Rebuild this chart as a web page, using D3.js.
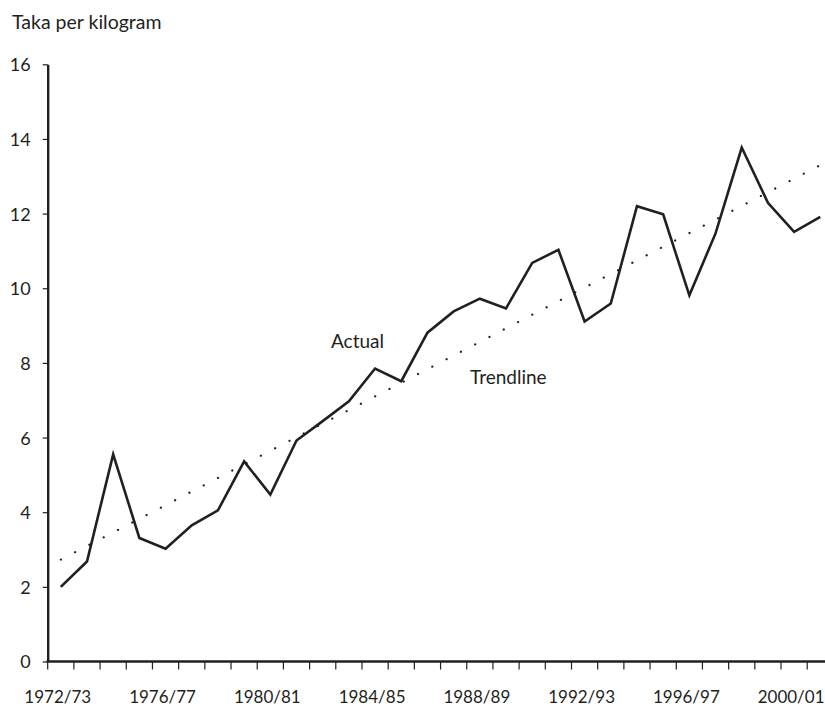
<!DOCTYPE html>
<html>
<head>
<meta charset="utf-8">
<script src="https://cdn.jsdelivr.net/npm/d3@7"></script>
<style>
  html, body { margin: 0; padding: 0; background: #fff; }
  svg { display: block; font-family: Lato, "Open Sans", sans-serif; }
  .axis path, .axis line { stroke: #231f20; }
  .axis text { fill: #231f20; font-size: 18px; font-family: Lato, sans-serif; }
</style>
</head>
<body>
<svg id="chart" width="825" height="708"></svg>
<script>
const years = [
  '1972/73', '1973/74', '1974/75', '1975/76', '1976/77', '1977/78', '1978/79', '1979/80',
  '1980/81', '1981/82', '1982/83', '1983/84', '1984/85', '1985/86', '1986/87', '1987/88',
  '1988/89', '1989/90', '1990/91', '1991/92', '1992/93', '1993/94', '1994/95', '1995/96',
  '1996/97', '1997/98', '1998/99', '1999/00', '2000/01', '2001/02'
];

const actual = [
  2.0, 2.68, 5.55, 3.31, 3.02, 3.65, 4.05, 5.36, 4.47, 5.92,
  6.44, 6.97, 7.85, 7.51, 8.81, 9.38, 9.72, 9.46, 10.68, 11.03,
  9.11, 9.59, 12.2, 11.98, 9.81, 11.47, 13.77, 12.29, 11.51, 11.91
];

// trendline read at the first and last year
const trendline = [
  { year: '1972/73', value: 2.73 },
  { year: '2001/02', value: 13.3 }
];

const yTicks = [0, 2, 4, 6, 8, 10, 12, 14, 16];
const labelYears = ['1972/73', '1976/77', '1980/81', '1984/85', '1988/89', '1992/93', '1996/97', '2000/01'];

const ink = '#231f20';
const axisLeft = 47.7;
const axisBottom = 661.5;
const step = 26.19;

const svg = d3.select('#chart');

const x = d3.scaleBand()
  .domain(years)
  .range([axisLeft, axisLeft + step * years.length])
  .paddingInner(0)
  .paddingOuter(0);

const xMid = d => x(d) + x.bandwidth() / 2;

const y = d3.scaleLinear()
  .domain([0, 16])
  .range([axisBottom, 64.3]);

// y axis
const yAxis = svg.append('g')
  .classed('axis', true)
  .attr('transform', `translate(${axisLeft},0)`)
  .call(d3.axisLeft(y).tickValues(yTicks).tickSize(5).tickSizeOuter(0).tickPadding(12));

yAxis.select('.domain').attr('stroke-width', 2.4);
yAxis.selectAll('.tick line').attr('stroke-width', 1.2);
yAxis.selectAll('.tick text').attr('dy', '0.36em');

// x axis: tick marks at the band edges, labels every four years
const xAxis = svg.append('g')
  .classed('axis', true)
  .attr('transform', `translate(0,${axisBottom})`);

xAxis.append('line')
  .attr('x1', axisLeft - 1.2)
  .attr('x2', x.range()[1])
  .attr('stroke', ink)
  .attr('stroke-width', 2.4);

xAxis.selectAll('.xtick')
  .data(years)
  .join('line')
  .classed('xtick', true)
  .attr('x1', d => x(d))
  .attr('x2', d => x(d))
  .attr('y1', 0)
  .attr('y2', 8)
  .attr('stroke', ink)
  .attr('stroke-width', 1.2);

xAxis.selectAll('.xlabel')
  .data(labelYears)
  .join('text')
  .classed('xlabel', true)
  .attr('x', d => xMid(d) - 3)
  .attr('y', 41.5)
  .attr('text-anchor', 'middle')
  .style('font-size', '17px')
  .text(d => d);

// trendline
svg.append('path')
  .datum(trendline)
  .attr('fill', 'none')
  .attr('stroke', ink)
  .attr('stroke-width', 2.2)
  .attr('stroke-linecap', 'round')
  .attr('stroke-dasharray', '0.1 16')
  .attr('d', d3.line().x(d => xMid(d.year)).y(d => y(d.value)));

// actual
svg.append('path')
  .datum(actual)
  .attr('fill', 'none')
  .attr('stroke', ink)
  .attr('stroke-width', 2.6)
  .attr('stroke-linejoin', 'miter')
  .attr('d', d3.line().x((d, i) => xMid(years[i])).y(d => y(d)));

// annotations
svg.append('text')
  .attr('x', 12)
  .attr('y', 29)
  .attr('fill', ink)
  .style('font-size', '19.5px')
  .text('Taka per kilogram');

svg.append('text')
  .attr('x', 331)
  .attr('y', 347.5)
  .attr('fill', ink)
  .style('font-size', '19px')
  .text('Actual');

svg.append('text')
  .attr('x', 470)
  .attr('y', 384)
  .attr('fill', ink)
  .style('font-size', '19px')
  .text('Trendline');
</script>
</body>
</html>
